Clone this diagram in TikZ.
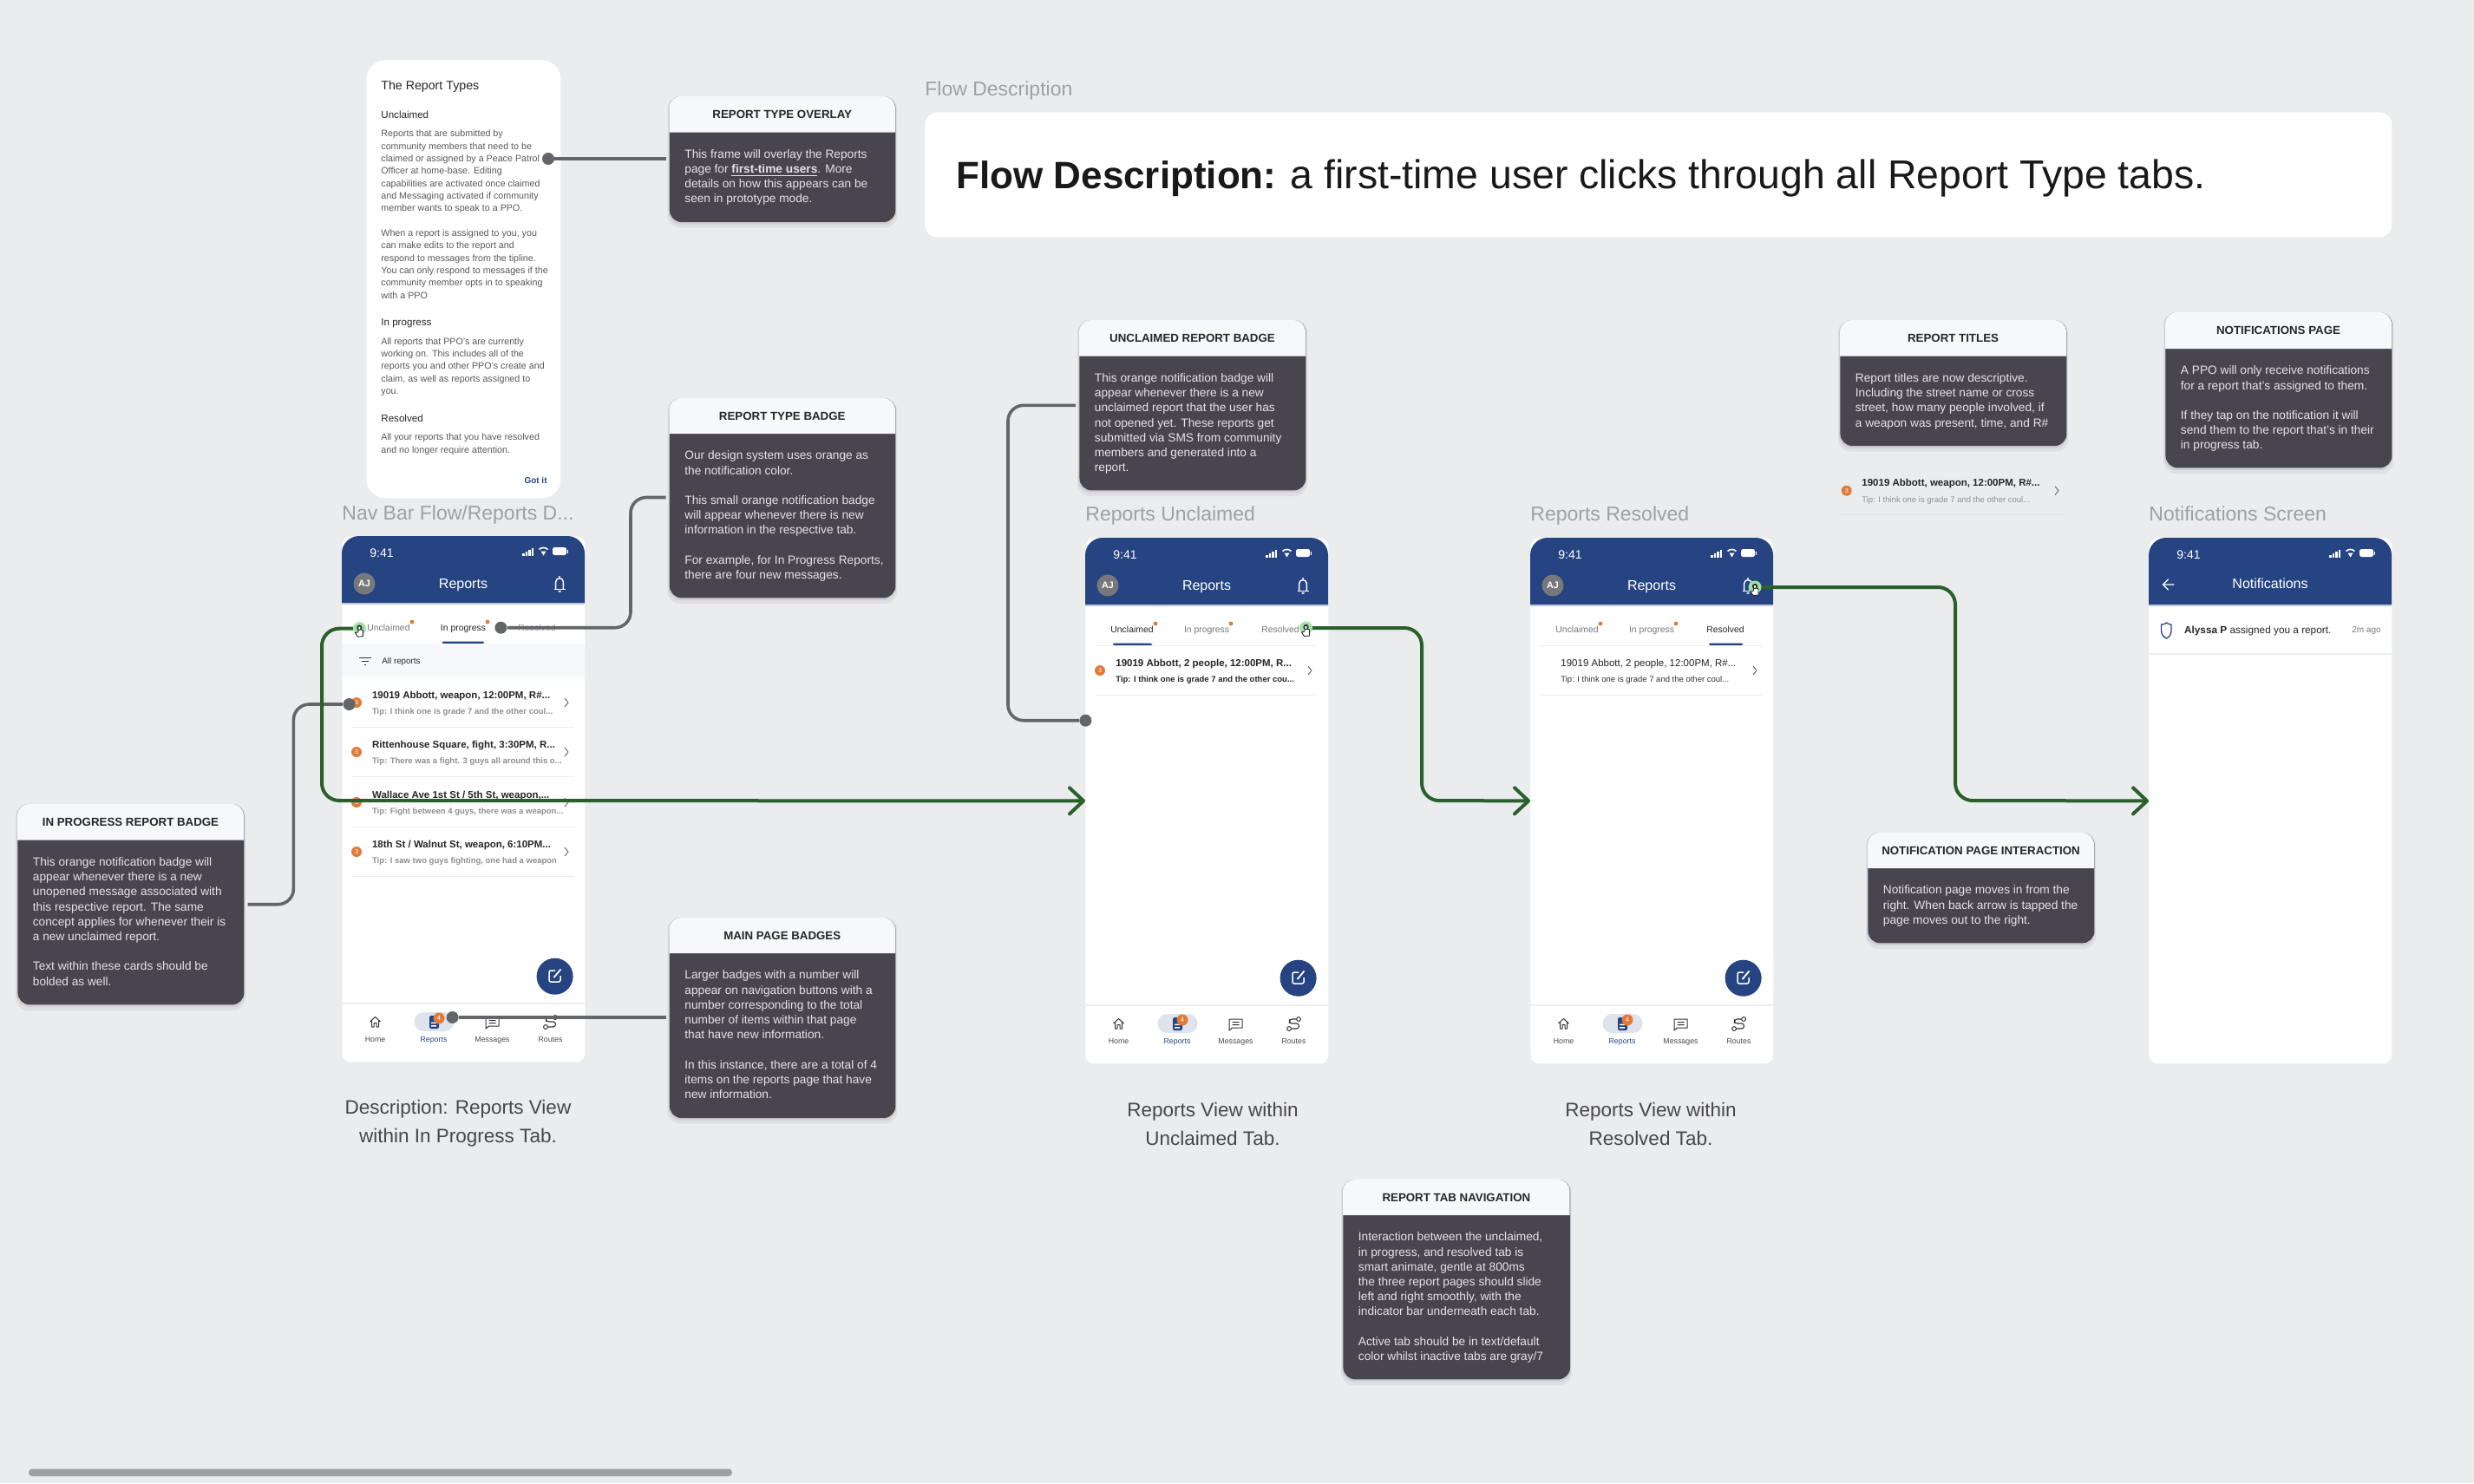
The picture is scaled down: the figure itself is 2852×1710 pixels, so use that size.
\documentclass[tikz,border=0pt]{standalone}
\usepackage{fontspec}
\setmainfont{Liberation Sans}
\usetikzlibrary{calc}
\usetikzlibrary{positioning,arrows.meta}

\definecolor{canvasgray}{HTML}{EBECEE}
\definecolor{cardink}{HTML}{48454F}
\definecolor{cardtop}{HTML}{F7F8FA}
\definecolor{navyblue}{HTML}{264482}
\definecolor{notegray}{HTML}{646569}
\definecolor{flowgreen}{HTML}{2A602B}
\definecolor{touchgreen}{HTML}{9FE3A4}
\definecolor{badgeorange}{HTML}{E07B39}
\definecolor{framegray}{HTML}{9FA0A3}
\definecolor{softgray}{HTML}{77787C}
\definecolor{tipgray}{HTML}{8E8F93}
\definecolor{rulegray}{HTML}{EDEEF0}

% one sticky note: name, left, top, header bottom, right, bottom, title, body
\newcommand{\NoteCard}[8]{
    \fill[black,opacity=0.05,rounded corners=7pt] (#2-2,#3) rectangle (#5+2,#6+7);
    \fill[black,opacity=0.07,rounded corners=7pt] (#2-1,#3) rectangle (#5+1,#6+3);
    \node[CardCfg,minimum width={(#5-#2)*0.5pt},minimum height={(#6-#3)*0.5pt}](#1) at (#2,#3){};
    \fill[cardtop] (#2,#4)[rounded corners=7pt]--(#2,#3)--(#5,#3)[sharp corners]--(#5,#4)--cycle;
    \node[CardTitleCfg](#1Title) at ({(#2+#5)/2},{(#3+#4)/2}){#7};
    \node[CardTextCfg](#1Text) at (#2+17.5,#4+19.5){#8};
}

% frame of a phone, its header and the status bar
\newcommand{\PhoneFrame}[1]{
    \node[PhoneCfg](#1Body) at (0,0){};
    \fill[navyblue] (0,78)[rounded corners=10pt]--(0,0)--(280,0)[sharp corners]--(280,78)--cycle;
    \fill[white!70!navyblue] (0,77) rectangle (280,78.5);
    \node[TextCfg,text=white,font=\fontsize{7}{8}\selectfont](#1Time) at (46,19){9:41};
    \foreach \i/\h in {0/3,1/5,2/7,3/9}
        \fill[white] (208+\i*3.6,23-\h) rectangle ++(2.6,\h);
    \draw[white,line width=0.8pt] (227.5,15.5) arc[start angle=135,end angle=45,radius=3.5pt];
    \fill[white] (229.5,17.5)--(235.5,17.5)--(232.5,22.5)--cycle;
    \fill[white,rounded corners=1.2pt] (243,13) rectangle (259,22);
    \fill[white] (260,16) rectangle (261,19.5);
}

% the reports header, with the tabs: name, left, right, active tab mark
\newcommand{\ReportsTop}[3]{
    \node[circle,fill=softgray,minimum size=12.5pt,inner sep=0pt,text=white,font=\bfseries\fontsize{5.4}{6}\selectfont](#1Avatar) at (26,55){AJ};
    \node[TextCfg,text=white,font=\fontsize{8}{9}\selectfont](#1Head) at (140,55){Reports};
    \draw[white,line width=0.7pt] (244.5,61.5)--(257.5,61.5);
    \draw[white,line width=0.7pt] (246.6,61.5)--(246.6,53) arc[start angle=180,end angle=0,radius=2.2pt]--(255.4,61.5);
    \fill[white] (251,47) circle (0.6pt) (249.5,63) rectangle (252.5,64.5);
    \node[TextCfg,text=#2,font=\fontsize{5.2}{6}\selectfont](#1TabA) at (54,106){Unclaimed};
    \node[TextCfg,text=softgray,font=\fontsize{5.2}{6}\selectfont,text=#3](#1TabB) at (140,106){In progress};
    \fill[badgeorange] (81,99) circle (1.2pt) (168,99) circle (1.2pt);
}

% the bottom navigation and the round button
\newcommand{\PhoneNav}[1]{
    \node[circle,fill=navyblue,minimum size=21pt,inner sep=0pt](#1Fab) at (245.6,507.7){};
    \draw[white,line width=0.75pt,rounded corners=1pt] (246,501)--(239,501)--(239,514)--(252,514)--(252,507);
    \draw[white,line width=0.9pt] (244.5,509)--(252.5,499.5);
    \draw[rulegray,line width=0.7pt] (0,539)--(280,539);
    \fill[navyblue!15,rounded corners=5.5pt] (83.5,549) rectangle (129.5,571);
    % home
    \draw[black!80,line width=0.5pt,line join=round] (32.5,560)--(38.5,554.5)--(44.5,560) (34.5,558.5)--(34.5,566)--(37,566)--(37,561.5)--(40,561.5)--(40,566)--(42.5,566)--(42.5,558.5);
    % reports
    \fill[navyblue,rounded corners=0.8pt] (101,553) rectangle (112,568);
    \fill[white] (103,560.5) rectangle (109,562) (103,564) rectangle (109,565.5);
    \node[circle,fill=badgeorange,minimum size=6.5pt,inner sep=0pt,text=white,font=\fontsize{3.8}{4}\selectfont](#1NavBadge) at (112,556){4};
    % messages
    \draw[black!80,line width=0.5pt,line join=round] (166,555)--(181,555)--(181,565)--(169.5,565)--(166,568)--cycle (169.5,558.5)--(177.5,558.5) (169.5,561.5)--(177.5,561.5);
    % routes
    \draw[black!80,line width=0.55pt,rounded corners=1.5pt] (246,555)--(235.5,555)--(235.5,560)--(246.5,560)--(246.5,566)--(237,566);
    \draw[black!80,line width=0.5pt,fill=white] (235,566) circle (1.2pt) (246,555) circle (1.2pt);
    \node[TextCfg,text=black!70,font=\fontsize{4.4}{5}\selectfont](#1NavA) at (38.5,580){Home};
    \node[TextCfg,text=navyblue,font=\fontsize{4.4}{5}\selectfont](#1NavB) at (106,580){Reports};
    \node[TextCfg,text=black!70,font=\fontsize{4.4}{5}\selectfont](#1NavC) at (173.5,580){Messages};
    \node[TextCfg,text=black!70,font=\fontsize{4.4}{5}\selectfont](#1NavD) at (240.5,580){Routes};
}

% a report line: name, centre y, x of the text, title, tip, fonts
\newcommand{\ReportRow}[6]{
    \node[RowTitleCfg,font=#6\fontsize{5.75}{6}\selectfont](#1Title) at (#3,#2-9){#4};
    \node[RowTitleCfg,text=#5,font=#6\fontsize{4.75}{6}\selectfont](#1Tip) at (#3,#2+10){\RowTip};
    \fill[rulegray] (11,#2+27.5) rectangle (268,#2+28.5);
    \draw[black!60,line width=0.45pt] (257,#2-5)--(261,#2)--(257,#2+5);
}
\newcommand{\RowBadge}[2]{
    \node[circle,fill=badgeorange,minimum size=6pt,inner sep=0pt,text=white,font=\fontsize{3.5}{4}\selectfont](#1) at #2{3};
}

% the touch mark with its hand
\newcommand{\TouchMark}[2]{
    \node[circle,fill=touchgreen,minimum size=7.5pt,inner sep=0pt](#1) at #2{};
    \draw[black!85,line width=0.45pt,fill=white,line join=round,shift={#2}] (-1.5,4)--(-1.5,-2.5)--(1.5,-2.5)--(1.5,1)--(4,2)--(4,9)--(-2,9.5)--(-5,5)--cycle;
    \draw[black!85,line width=0.5pt,shift={#2}] (0,-1) circle (1.3pt);
}

\begin{document}
\begin{tikzpicture}[
        x=0.5pt,y=-0.5pt,
        TextCfg/.style={inner sep=0pt,execute at begin node={\rule{0pt}{0.93em}\vphantom{g}}},
        RowTitleCfg/.style={TextCfg,anchor=west,text=black!85},
        GroupCfg/.style={TextCfg,anchor=west,text=framegray,font=\fontsize{11.5}{13}\selectfont},
        CaptionCfg/.style={inner sep=0pt,align=center,text=cardink,font=\fontsize{11.25}{16.35}\selectfont},
        CardCfg/.style={anchor=north west,fill=cardink,rounded corners=7pt,inner sep=0pt},
        CardTitleCfg/.style={TextCfg,text=black!85,font=\bfseries\fontsize{6.65}{7}\selectfont},
        CardTextCfg/.style={anchor=north west,inner sep=0pt,align=left,text=white!90!black,font=\fontsize{6.85}{8.6}\selectfont},
        OverlayCfg/.style={anchor=north west,inner sep=0pt,align=left,text=black!65,font=\fontsize{5.35}{7.17}\selectfont},
        OverlayHeadCfg/.style={TextCfg,anchor=west,text=black!85,font=\fontsize{5.8}{7}\selectfont},
        PhoneCfg/.style={anchor=north west,fill=white,rounded corners=5pt,inner sep=0pt,minimum width=140pt,minimum height=303pt},
        NoteLine/.style={notegray,line width=1.8pt,rounded corners=9pt},
        NoteDot/.style={circle,fill=notegray,minimum size=7pt,inner sep=0pt},
        FlowLine/.style={flowgreen,line width=2pt,rounded corners=10pt,-{Straight Barb[length=8pt,width=15pt,line width=2pt,round]}}
    ]
    \useasboundingbox (0,0) rectangle (2852,1710);
    \fill[canvasgray] (0,0) rectangle (2852,1710);

    %flow description panel
    \node[GroupCfg](FlowLabel) at (1066,102){Flow Description};
    \node[anchor=north west,fill=white,rounded corners=7pt,inner sep=0pt,minimum width=845.5pt,minimum height=72pt](FlowPanel) at (1066,129){};
    \node[TextCfg,anchor=west,text=black!90,font=\fontsize{22}{26}\selectfont,right=18pt of FlowPanel.west](FlowText){\textbf{Flow Description:} {\fontsize{23.2}{26}\selectfont a first-time user clicks through all Report Type tabs.}};

    %overlay frame
    \node[anchor=north west,fill=white,rounded corners=11pt,inner sep=0pt,minimum width=112pt,minimum height=252.5pt](Overlay) at (422,69){};
    \node[TextCfg,anchor=west,text=black!85,font=\fontsize{7.1}{8}\selectfont](OverlayHead) at (439,98){The Report Types};
    \node[OverlayHeadCfg](OverlayA) at (439,132){Unclaimed};
    \node[OverlayCfg](OverlayAText) at (439,149.5){Reports that are submitted by\\community members that need to be\\claimed or assigned by a Peace Patrol\\Officer at home-base. Editing\\capabilities are activated once claimed\\and Messaging activated if community\\member wants to speak to a PPO.\\[7.17pt]When a report is assigned to you, you\\can make edits to the report and\\respond to messages from the tipline.\\You can only respond to messages if the\\community member opts in to speaking\\with a PPO};
    \node[OverlayHeadCfg](OverlayB) at (439,371.5){In progress};
    \node[OverlayCfg](OverlayBText) at (439,389){All reports that PPO's are currently\\working on. This includes all of the\\reports you and other PPO's create and\\claim, as well as reports assigned to\\you.};
    \node[OverlayHeadCfg](OverlayC) at (439,482){Resolved};
    \node[OverlayCfg](OverlayCText) at (439,499.5){All your reports that you have resolved\\and no longer require attention.};
    \node[TextCfg,anchor=east,text=navyblue,font=\bfseries\fontsize{5}{6}\selectfont](OverlayGot) at (631,554){Got it};

    %phone 1, in progress
    \node[GroupCfg](GroupA) at (394,591){Nav Bar Flow/Reports D...};
    \begin{scope}[shift={(394,618)},name prefix=A]
        \PhoneFrame{}
        \ReportsTop{}{softgray}{black!85}
        \node[TextCfg,text=softgray!70,font=\fontsize{5.2}{6}\selectfont](TabC) at (225,106){Resolved};
        \fill[navyblue,rounded corners=1pt] (115.5,121.5) rectangle (164,124);
        \fill[cardtop] (0,124) rectangle (280,163);
        \draw[black!80,line width=0.5pt] (20,140)--(34,140) (23,144)--(31,144) (26,148)--(28,148);
        \node[RowTitleCfg,font=\fontsize{4.9}{6}\selectfont](Filter) at (46,144){All reports};
        \def\RowTip{Tip: I think one is grade 7 and the other coul...}
        \ReportRow{RowA}{192}{34.7}{19019 Abbott, weapon, 12:00PM, R\#...}{tipgray}{\bfseries}
        \def\RowTip{Tip: There was a fight. 3 guys all around this o...}
        \ReportRow{RowB}{249}{34.7}{Rittenhouse Square, fight, 3:30PM, R...}{tipgray}{\bfseries}
        \def\RowTip{Tip: Fight between 4 guys, there was a weapon...}
        \ReportRow{RowC}{307}{34.7}{Wallace Ave 1st St / 5th St, weapon,...}{tipgray}{\bfseries}
        \def\RowTip{Tip: I saw two guys fighting, one had a weapon}
        \ReportRow{RowD}{364}{34.7}{18th St / Walnut St, weapon, 6:10PM...}{tipgray}{\bfseries}
        \RowBadge{BadgeA}{(17,192)}
        \RowBadge{BadgeB}{(17,249)}
        \RowBadge{BadgeC}{(17,307)}
        \RowBadge{BadgeD}{(17,364)}
        \PhoneNav{}
    \end{scope}
    \node[CaptionCfg](CaptionA) at (528,1295){Description: Reports View\\within In Progress Tab.};

    %phone 2, unclaimed
    \node[GroupCfg](GroupB) at (1251,592){Reports Unclaimed};
    \begin{scope}[shift={(1251,620)},name prefix=B]
        \PhoneFrame{}
        \ReportsTop{}{black!85}{softgray}
        \node[TextCfg,text=softgray,font=\fontsize{5.2}{6}\selectfont](TabC) at (225,106){Resolved};
        \fill[navyblue,rounded corners=1pt] (32,121.5) rectangle (77,124);
        \fill[rulegray] (11,124) rectangle (268,125);
        \def\RowTip{Tip: I think one is grade 7 and the other cou...}
        \ReportRow{RowA}{153}{35}{19019 Abbott, 2 people, 12:00PM, R...}{black!85}{\bfseries}
        \RowBadge{BadgeA}{(17,153)}
        \PhoneNav{}
    \end{scope}
    \node[CaptionCfg](CaptionB) at (1398,1296){Reports View within\\Unclaimed Tab.};

    %phone 3, resolved
    \node[GroupCfg](GroupC) at (1764,592){Reports Resolved};
    \begin{scope}[shift={(1764,620)},name prefix=C]
        \PhoneFrame{}
        \ReportsTop{}{softgray}{softgray}
        \node[TextCfg,text=black!85,font=\fontsize{5.2}{6}\selectfont](TabC) at (225,106){Resolved};
        \fill[navyblue,rounded corners=1pt] (206,121.5) rectangle (245,124);
        \fill[rulegray] (11,124) rectangle (268,125);
        \def\RowTip{Tip: I think one is grade 7 and the other coul...}
        \ReportRow{RowA}{153}{35}{19019 Abbott, 2 people, 12:00PM, R\#...}{black!80}{}
        \PhoneNav{}
    \end{scope}
    \node[CaptionCfg](CaptionC) at (1903,1296){Reports View within\\Resolved Tab.};

    %phone 4, notifications
    \node[GroupCfg](GroupD) at (2477,592){Notifications Screen};
    \begin{scope}[shift={(2477,620)},name prefix=D]
        \PhoneFrame{}
        \draw[white,line width=0.65pt,line cap=round] (17,54)--(29,54) (22.5,48)--(16.5,54)--(22.5,60);
        \node[TextCfg,text=white,font=\fontsize{8}{9}\selectfont](Head) at (140,53){Notifications};
        \draw[navyblue,line width=0.65pt,line join=round] (14.5,100) .. controls (17,100) and (20,99) .. (20.5,98) .. controls (21,99) and (24,100) .. (26,100)--(26,107) .. controls (26,112) and (23,115) .. (20.5,116) .. controls (18,115) and (14.5,112) .. (14.5,107)--cycle;
        \node[RowTitleCfg,font=\fontsize{5.9}{6}\selectfont](Line) at (40.7,106){\textbf{Alyssa P} assigned you a report.};
        \node[TextCfg,anchor=east,text=softgray,font=\fontsize{5}{6}\selectfont](Age) at (268,106){2m ago};
        \fill[rulegray] (0,133) rectangle (280,134.5);
    \end{scope}

    %report titles sample
    \node[RowTitleCfg,font=\bfseries\fontsize{5.75}{6}\selectfont](SampleTitle) at (2146,556.7){19019 Abbott, weapon, 12:00PM, R\#...};
    \node[RowTitleCfg,text=tipgray,font=\fontsize{4.75}{6}\selectfont](SampleTip) at (2146,575.7){Tip: I think one is grade 7 and the other coul...};
    \node[circle,fill=badgeorange,minimum size=6pt,inner sep=0pt,text=white,font=\fontsize{3.5}{4}\selectfont](SampleBadge) at (2128.7,565.7){3};
    \draw[black!60,line width=0.45pt] (2369,560.7)--(2373,565.7)--(2369,570.7);
    \fill[rulegray!95!black] (2122,592.5) rectangle (2380,593.5);

    %notes
    \NoteCard{TypeOverlay}{771.5}{111}{152.5}{1032}{255.7}{REPORT TYPE OVERLAY}{This frame will overlay the Reports\\page for \underline{\textbf{first-time users}}. More\\details on how this appears can be\\seen in prototype mode.}
    \NoteCard{TypeBadge}{771.5}{459}{500}{1032}{689}{REPORT TYPE BADGE}{Our design system uses orange as\\the notification color.\\[8.6pt]This small orange notification badge\\will appear whenever there is new\\information in the respective tab.\\[8.6pt]For example, for In Progress Reports,\\there are four new messages.}
    \NoteCard{ProgressBadge}{20}{927}{968.7}{281}{1158}{IN PROGRESS REPORT BADGE}{This orange notification badge will\\appear whenever there is a new\\unopened message associated with\\this respective report. The same\\concept applies for whenever their is\\a new unclaimed report.\\[8.6pt]Text within these cards should be\\bolded as well.}
    \NoteCard{PageBadges}{771.5}{1058}{1099}{1032}{1288.7}{MAIN PAGE BADGES}{Larger badges with a number will\\appear on navigation buttons with a\\number corresponding to the total\\number of items within that page\\that have new information.\\[8.6pt]In this instance, there are a total of 4\\items on the reports page that have\\new information.}
    \NoteCard{UnclaimedBadge}{1244}{369}{410.7}{1505}{565}{UNCLAIMED REPORT BADGE}{This orange notification badge will\\appear whenever there is a new\\unclaimed report that the user has\\not opened yet. These reports get\\submitted via SMS from community\\members and generated into a\\report.}
    \NoteCard{ReportTitles}{2121}{369}{410.7}{2382}{513.7}{REPORT TITLES}{Report titles are now descriptive.\\Including the street name or cross\\street, how many people involved, if\\a weapon was present, time, and R\#}
    \NoteCard{NotifPage}{2496}{360}{402}{2757}{539}{NOTIFICATIONS PAGE}{A PPO will only receive notifications\\for a report that's assigned to them.\\[8.6pt]If they tap on the notification it will\\send them to the report that's in their\\in progress tab.}
    \NoteCard{TabNav}{1548}{1360}{1401}{1809.7}{1590}{REPORT TAB NAVIGATION}{Interaction between the unclaimed,\\in progress, and resolved tab is\\smart animate, gentle at 800ms\\the three report pages should slide\\left and right smoothly, with the\\indicator bar underneath each tab.\\[8.6pt]Active tab should be in text/default\\color whilst inactive tabs are gray/7}
    \NoteCard{NotifMove}{2153}{960}{1001}{2414}{1087}{NOTIFICATION PAGE INTERACTION}{Notification page moves in from the\\right. When back arrow is tapped the\\page moves out to the right.}

    %connections, notes
    \coordinate (OverlayOut) at (767.5,183);
    \coordinate (BadgeOut) at (767.5,573.5);
    \coordinate (ProgressOut) at (285.6,1042.7);
    \coordinate (PagesOut) at (767.5,1173);
    \coordinate (UnclaimedOut) at (1240,467.3);
    \node[NoteDot](OverlayDot) at (632,183){};
    \node[NoteDot](BadgeDot) at (577.4,723.7){};
    \node[NoteDot](ProgressDot) at (402.5,812){};
    \node[NoteDot](PagesDot) at (521.6,1173){};
    \node[NoteDot](UnclaimedDot) at (1251.4,830.7){};
    \draw[NoteLine] (OverlayDot)--(OverlayOut);
    \draw[NoteLine] (BadgeDot)-|(727,573.5)--(BadgeOut);
    \draw[NoteLine] (ProgressOut)-|(338.4,812)--(ProgressDot);
    \draw[NoteLine] (PagesDot)--(PagesOut);
    \draw[NoteLine] (UnclaimedOut)-|(1162,830.7)--(UnclaimedDot);

    %connections, flow
    \coordinate (TouchAOut) at (414.4,724.7);
    \coordinate (TouchBOut) at (1505.5,724);
    \coordinate (TouchCOut) at (2023,677);
    \draw[FlowLine] (TouchAOut)-|(371,923)--(BBody.west);
    \draw[FlowLine] (TouchBOut)-|(1639,923)--(CBody.west);
    \draw[FlowLine] (TouchCOut)-|(2254,923)--(DBody.west);
    \TouchMark{TouchA}{(414.4,724.7)}
    \TouchMark{TouchB}{(1505.5,724)}
    \TouchMark{TouchC}{(2023,677)}

    %scroll bar
    \fill[framegray,rounded corners=2pt] (33,1693.5) rectangle (844,1702);
\end{tikzpicture}
\end{document}
